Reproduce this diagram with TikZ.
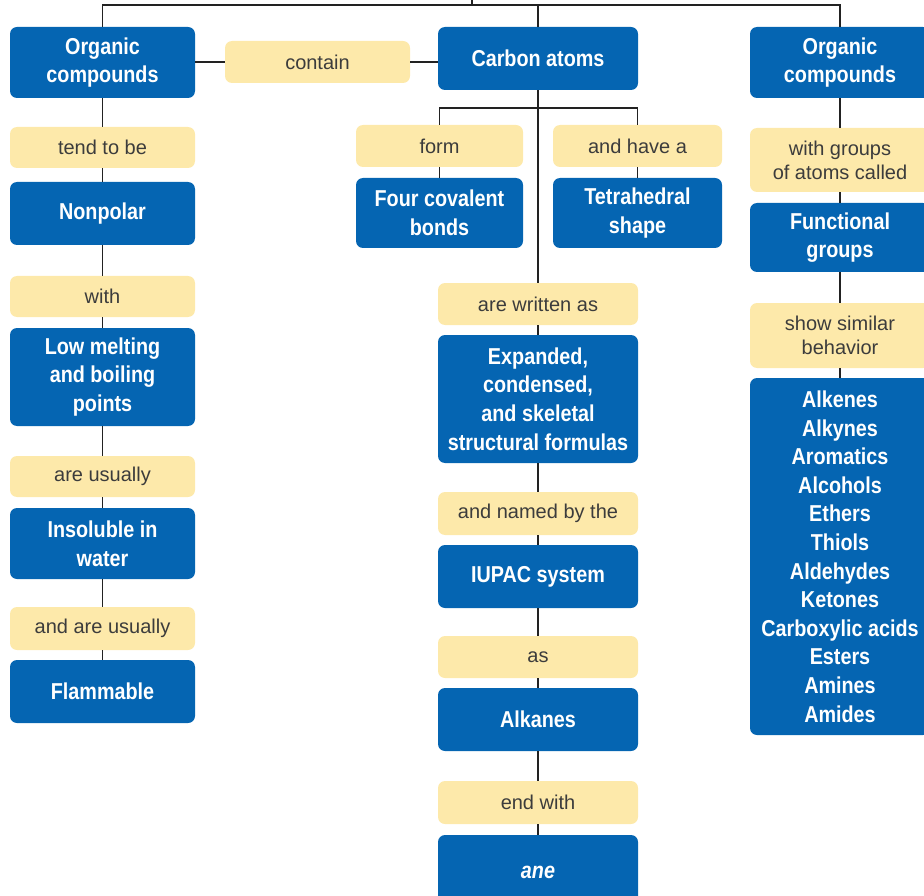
\documentclass[tikz,border=0pt]{standalone}
\usepackage{fontspec}
\setmainfont{Liberation Sans}
\newfontfamily\bluefam[FakeStretch=0.86]{Liberation Sans}
\newfontfamily\yelfam{Liberation Sans}
\definecolor{cblue}{HTML}{0565B2}
\definecolor{cyellow}{HTML}{FDE9AA}
\definecolor{tgray}{HTML}{3C3C3C}
\definecolor{lgray}{HTML}{222222}
\tikzset{
  bbox/.style={fill=cblue, draw=none, rounded corners=7pt, text=white, align=center, inner sep=0pt,
    font=\bluefam\bfseries\fontsize{23}{28.6}\selectfont},
  ybox/.style={fill=cyellow, draw=none, rounded corners=7pt, text=tgray, align=center, inner sep=0pt,
    font=\yelfam\fontsize{20}{24}\selectfont},
  conn/.style={draw=lgray, line width=1.5pt},
  sz/.style 2 args={minimum width=#1pt, minimum height=#2pt},
}
\begin{document}
\begin{tikzpicture}[x=1pt,y=-1pt]
\useasboundingbox (0,0) rectangle (924,896);
\clip (0,0) rectangle (924,896);
% left column
\node[bbox, sz={185}{71}] (oc1) at (102.5,62.5) {Organic\\compounds};
\node[ybox, sz={185}{41}] (tend) at (102.5,147.5) {tend to be};
\node[bbox, sz={185}{63}] (nonpolar) at (102.5,213.5) {Nonpolar};
\node[ybox, sz={185}{41}] (with) at (102.5,296.5) {with};
\node[bbox, sz={185}{98}] (low) at (102.5,377) {Low melting\\and boiling\\points};
\node[ybox, sz={185}{41}] (areusu) at (102.5,476.5) {are usually};
\node[bbox, sz={185}{71}] (insol) at (102.5,543.5) {Insoluble in\\water};
\node[ybox, sz={185}{43}] (andare) at (102.5,628.5) {and are usually};
\node[bbox, sz={185}{63}] (flam) at (102.5,691.5) {Flammable};
% contain
\node[ybox, sz={185}{42}] (contain) at (317.5,62) {contain};
% centre column
\node[bbox, sz={200}{63}] (carbon) at (538,58.5) {Carbon atoms};
\node[ybox, sz={167}{42}] (form) at (439.5,146) {form};
\node[ybox, sz={169}{42}] (have) at (637.5,146) {and have a};
\node[bbox, sz={167}{70}] (four) at (439.5,213) {Four covalent\\bonds};
\node[bbox, sz={169}{70}] (tetra) at (637.5,213) {Tetrahedral\\shape};
\node[ybox, sz={200}{42}] (written) at (538,304) {are written as};
\node[bbox, sz={200}{128}] (expanded) at (538,399) {Expanded,\\condensed,\\and skeletal\\structural formulas};
\node[ybox, sz={200}{43}] (named) at (538,513.5) {and named by the};
\node[bbox, sz={200}{63}] (iupac) at (538,576.5) {IUPAC system};
\node[ybox, sz={200}{42}] (as) at (538,657) {as};
\node[bbox, sz={200}{63}] (alkanes) at (538,719.5) {Alkanes};
\node[ybox, sz={200}{43}] (endwith) at (538,802.5) {end with};
\node[bbox, sz={200}{75}] (ane) at (538,872.5) {\itshape ane};
% right column
\node[bbox, sz={180}{71}] (oc2) at (840,62.5) {Organic\\compounds};
\node[ybox, sz={180}{64}] (withgroups) at (840,160) {with groups\\of atoms called};
\node[bbox, sz={180}{69}] (func) at (840,237.5) {Functional\\groups};
\node[ybox, sz={180}{65}] (show) at (840,335.5) {show similar\\behavior};
\node[bbox, sz={180}{357}] (list) at (840,556.5) {Alkenes\\Alkynes\\Aromatics\\Alcohols\\Ethers\\Thiols\\Aldehydes\\Ketones\\Carboxylic acids\\Esters\\Amines\\Amides};
% connectors
\coordinate (top) at (472,0);
\coordinate (hmid) at (472,5);
\coordinate (hl) at (102.5,5);
\coordinate (hr) at (840,5);
\coordinate (br) at (538,108);
\begin{scope}[on background layer/.try]
\end{scope}
\draw[conn] (top) -- (hmid);
\draw[conn] (oc1.north) -- (hl) -- (hr) -- (oc2.north);
\draw[conn] (carbon.north) -- (carbon.north |- hl);
\draw[conn] (oc1.east |- contain) -- (contain.west);
\draw[conn] (contain.east) -- (carbon.west |- contain);
\draw[conn] (oc1) -- (tend) (tend) -- (nonpolar) (nonpolar) -- (with) (with) -- (low)
  (low) -- (areusu) (areusu) -- (insol) (insol) -- (andare) (andare) -- (flam);
\draw[conn] (form.north) |- (br) -| (have.north);
\draw[conn] (form) -- (four) (have) -- (tetra);
\draw[conn] (carbon) -- (written) (written) -- (expanded) (expanded) -- (named) (named) -- (iupac)
  (iupac) -- (as) (as) -- (alkanes) (alkanes) -- (endwith) (endwith) -- (ane);
\draw[conn] (oc2) -- (withgroups) (withgroups) -- (func) (func) -- (show) (show) -- (list);
\end{tikzpicture}
\end{document}
